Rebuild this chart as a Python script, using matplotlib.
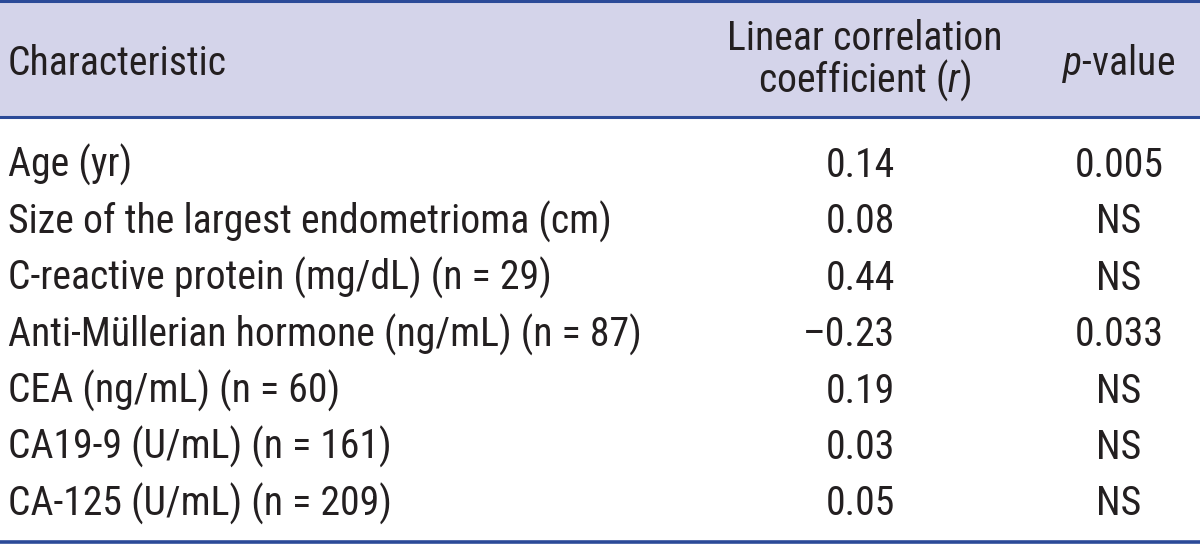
import matplotlib
matplotlib.use("Agg")
import matplotlib.pyplot as plt

characteristics = [
    "Age (yr)",
    "Size of the largest endometrioma (cm)",
    "C-reactive protein (mg/dL) (n = 29)",
    "Anti-Müllerian hormone (ng/mL) (n = 87)",
    "CEA (ng/mL) (n = 60)",
    "CA19-9 (U/mL) (n = 161)",
    "CA-125 (U/mL) (n = 209)",
]
r_values = ["0.14", "0.08", "0.44", "–0.23", "0.19", "0.03", "0.05"]
p_values = ["0.005", "NS", "NS", "0.033", "NS", "NS", "NS"]

FONT = "Roboto Condensed"
plt.rcParams['font.family'] = [FONT, 'Roboto', 'DejaVu Sans']
plt.rcParams['mathtext.fontset'] = 'custom'
plt.rcParams['mathtext.rm'] = FONT
plt.rcParams['mathtext.it'] = FONT + ':italic'

txt = '#231f20'
line_col = '#2b4a98'
fs = 28.6

fig = plt.figure(figsize=(12, 5.44), dpi=100)
ax = fig.add_axes([0, 0, 1, 1])
ax.set_xlim(0, 1200)
ax.set_ylim(544, 0)
ax.axis('off')

# header band and rules
ax.axhspan(0, 117, color='#d4d4ea', zorder=0)
ax.axhline(1.2, color=line_col, lw=2.2)
ax.axhline(117, color=line_col, lw=2.2)
ax.axhline(542, color=line_col, lw=2.6)

ax.text(8, 75, "Characteristic", fontsize=fs, color=txt, va='baseline', ha='left')
ax.text(865, 50, "Linear correlation", fontsize=fs, color=txt, va='baseline', ha='center')
ax.text(865, 92, "coefficient ($r$)", fontsize=fs, color=txt, va='baseline', ha='center')
ax.text(1119, 75, "$p$-value", fontsize=fs, color=txt, va='baseline', ha='center')

row_step = 56.4
for i, (c, r, p) in enumerate(zip(characteristics, r_values, p_values)):
    yb = 177 + i * row_step
    ax.text(8, yb, c, fontsize=fs, color=txt, va='baseline', ha='left')
    ax.text(895, yb, r, fontsize=fs, color=txt, va='baseline', ha='right')
    ax.text(1119, yb, p, fontsize=fs, color=txt, va='baseline', ha='center')

fig.savefig("out.png", dpi=100)
